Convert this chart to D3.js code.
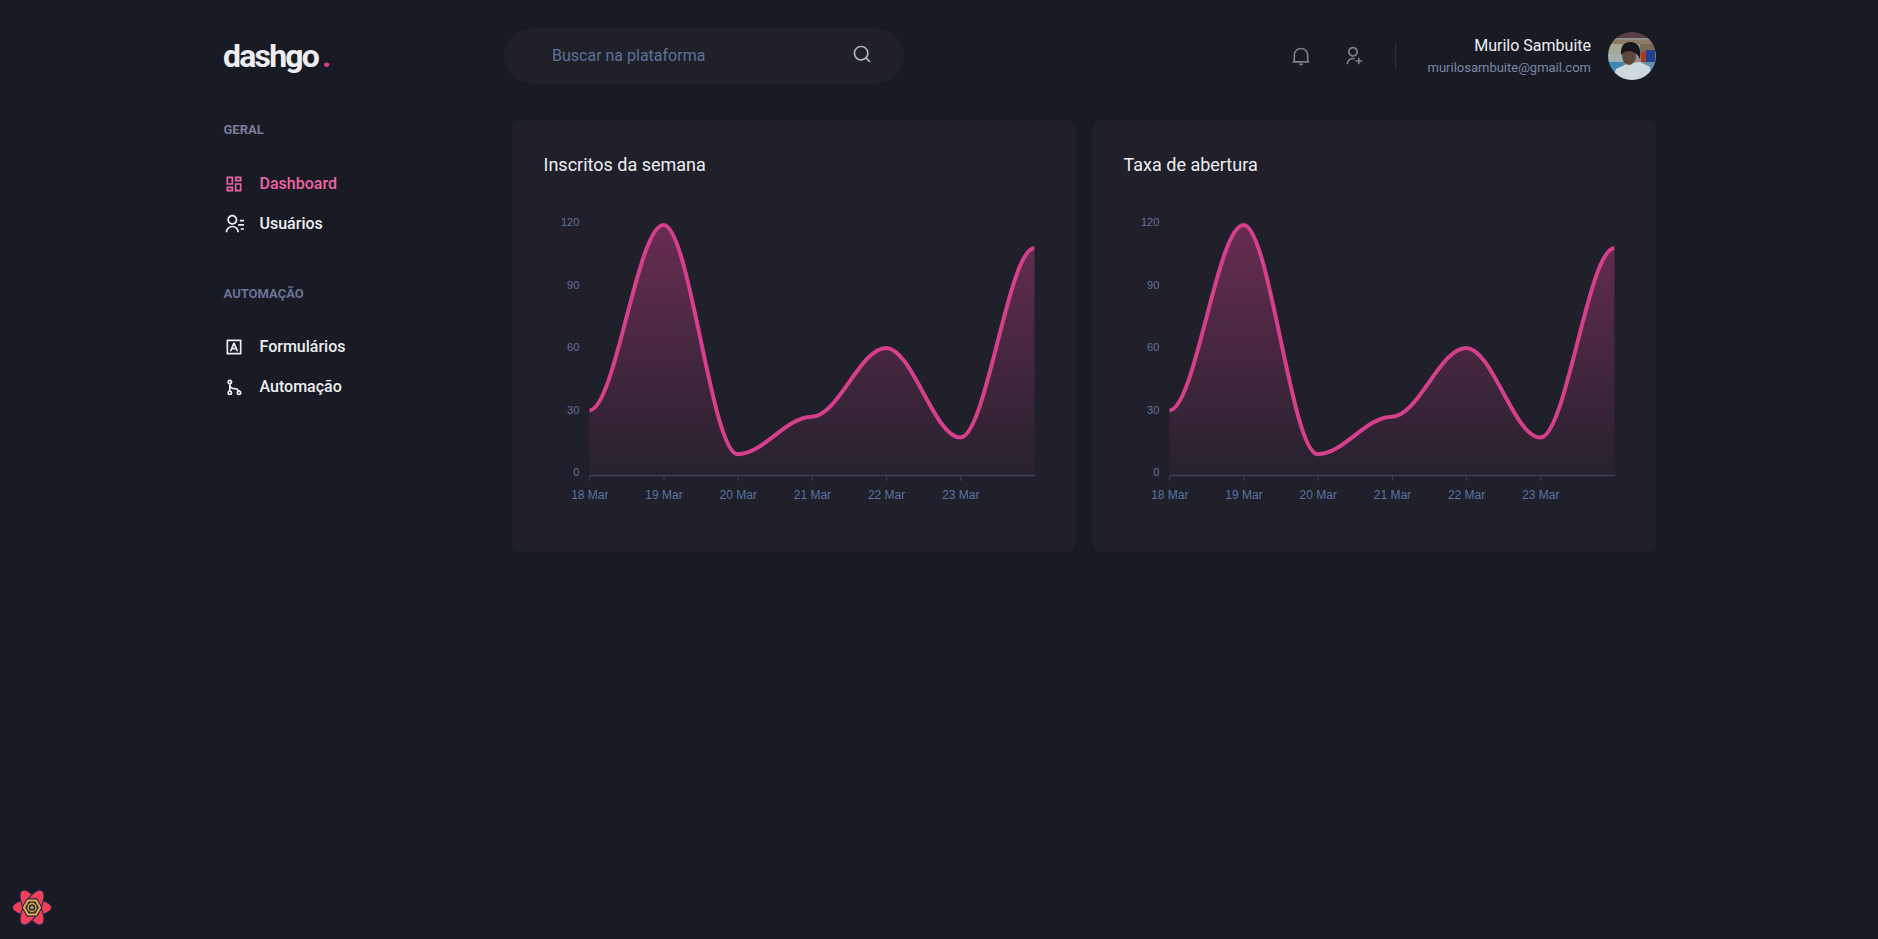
<!DOCTYPE html>
<html lang="pt-BR">
<head>
<meta charset="utf-8">
<title>dashgo</title>
<script src="https://cdn.jsdelivr.net/npm/d3@7"></script>
<style>
  html, body { margin: 0; padding: 0; background: #181B23; overflow: hidden; }
  svg { display: block; }
  text { font-family: Roboto, sans-serif; }
</style>
</head>
<body>
<div id="page"></div>
<script>
'use strict';

const categories = ["18 Mar", "19 Mar", "20 Mar", "21 Mar", "22 Mar", "23 Mar", "24 Mar"];
const tickLabels = ["18 Mar", "19 Mar", "20 Mar", "21 Mar", "22 Mar", "23 Mar"];
const yTicks = [0, 30, 60, 90, 120];
const subscribers = [31, 120, 10, 28, 61, 18, 109];
const openRate = [31, 120, 10, 28, 61, 18, 109];
const cardTitles = ["Inscritos da semana", "Taxa de abertura"];

const generalLinks = ["Dashboard", "Usuários"];
const automationLinks = ["Formulários", "Automação"];

const icons = {
    dashboard: "M13 21V11h8v10h-8zM3 13V3h8v10H3zm6-2V5H5v6h4zM3 21v-6h8v6H3zm2-2h4v-2H5v2zm10 0h4v-6h-4v6zM13 3h8v6h-8V3zm2 2v2h4V5h-4z",
    contacts: "M19 7h5v2h-5V7zm-2 5h7v2h-7v-2zm3 5h4v2h-4v-2zM2 22a8 8 0 1 1 16 0h-2a6 6 0 1 0-12 0H2zm8-9c-3.315 0-6-2.685-6-6s2.685-6 6-6 6 2.685 6 6-2.685 6-6 6zm0-2c2.21 0 4-1.79 4-4s-1.79-4-4-4-4 1.79-4 4 1.79 4 4 4z",
    input: "M5 5v14h14V5H5zM4 3h16a1 1 0 0 1 1 1v16a1 1 0 0 1-1 1H4a1 1 0 0 1-1-1V4a1 1 0 0 1 1-1zm5.869 12l-.82 2H6.833L11 7h2l4.167 10H14.95l-.82-2H9.87zm.82-2h2.622L12 9.8 10.689 13z",
    search: "M18.031 16.617l4.283 4.282-1.415 1.415-4.282-4.283A8.96 8.96 0 0 1 11 20c-4.968 0-9-4.032-9-9s4.032-9 9-9 9 4.032 9 9a8.96 8.96 0 0 1-1.969 5.617zm-2.006-.742A6.977 6.977 0 0 0 18 11c0-3.868-3.133-7-7-7-3.868 0-7 3.132-7 7 0 3.867 3.132 7 7 7a6.977 6.977 0 0 0 4.875-1.975l.15-.15z",
    bell: "M22 20H2v-2h1v-6.969C3 6.043 7.03 2 12 2s9 4.043 9 9.031V18h1v2zM5 18h14v-6.969C19 7.148 15.866 4 12 4s-7 3.148-7 7.031V18zm4.5 3h5a2.5 2.5 0 1 1-5 0z",
    userAdd: "M14 14.252v2.09A6 6 0 0 0 6 22l-2-.001a8 8 0 0 1 10-7.748zM12 13c-3.315 0-6-2.685-6-6s2.685-6 6-6 6 2.685 6 6-2.685 6-6 6zm0-2c2.21 0 4-1.79 4-4s-1.79-4-4-4-4 1.79-4 4 1.79 4 4 4zm6 6v-3h2v3h3v2h-3v3h-2v-3h-3v-2h3z"
};

const svg = d3.select("#page").append("svg")
    .attr("width", 1878)
    .attr("height", 939);

const defs = svg.append("defs");

// Curve with flat tangents at each point, same idea as the chart lib's "smooth"
class FlatSmooth {
    constructor(context) { this._context = context; }
    areaStart() { this._line = 0; }
    areaEnd() { this._line = NaN; }
    lineStart() { this._point = 0; }
    lineEnd() {
        if (this._line || (this._line !== 0 && this._point === 1)) this._context.closePath();
        this._line = 1 - this._line;
    }
    point(x, y) {
        x = +x; y = +y;
        if (this._point === 0) {
            this._point = 1;
            if (this._line) this._context.lineTo(x, y);
            else this._context.moveTo(x, y);
        } else {
            this._point = 2;
            const len = (x - this._x0) * 0.35;
            this._context.bezierCurveTo(this._x0 + len, this._y0, x - len, y, x, y);
        }
        this._x0 = x;
        this._y0 = y;
    }
}
const flatSmooth = (context) => new FlatSmooth(context);

const addText = (parent, x, y, label, size, weight, color, anchor) => {
    return parent.append("text")
        .attr("x", x)
        .attr("y", y)
        .attr("font-size", size)
        .attr("font-weight", weight)
        .attr("fill", color)
        .attr("text-anchor", anchor || "start")
        .text(label);
}

const addIcon = (parent, x, y, name, color) => {
    parent.append("path")
        .attr("transform", "translate(" + x + "," + y + ") scale(" + (20 / 24) + ")")
        .attr("d", icons[name])
        .attr("fill", color);
}

const drawHeader = () => {
    const g = svg.append("g");

    addText(g, 223, 67, "dashgo", 32, 700, "#EEEEF2").attr("letter-spacing", -1.8);
    addText(g, 322, 67, ".", 32, 700, "#D53F8C");

    g.append("rect")
        .attr("x", 504).attr("y", 28)
        .attr("width", 400).attr("height", 56)
        .attr("rx", 28)
        .attr("fill", "#1F2029");
    addText(g, 552, 61, "Buscar na plataforma", 16, 400, "#5f7196");
    addIcon(g, 852, 44, "search", "#B3B5C6");

    addIcon(g, 1291, 46, "bell", "#7d7e8a");
    addIcon(g, 1343, 46, "userAdd", "#7d7e8a");

    g.append("line")
        .attr("x1", 1395.5).attr("x2", 1395.5)
        .attr("y1", 42).attr("y2", 70)
        .attr("stroke", "#2c2e3b");

    addText(g, 1591, 51, "Murilo Sambuite", 16, 400, "#EEEEF2", "end");
    addText(g, 1591, 72, "murilosambuite@gmail.com", 13, 400, "#7b86a8", "end");

    drawAvatar(g, 1632, 56, 24);
}

// Rough stand-in for the profile photo
const drawAvatar = (parent, cx, cy, r) => {
    defs.append("clipPath").attr("id", "avatarClip")
        .append("circle").attr("cx", cx).attr("cy", cy).attr("r", r);
    defs.append("filter").attr("id", "soft")
        .append("feGaussianBlur").attr("stdDeviation", 0.5);

    const g = parent.append("g").attr("clip-path", "url(#avatarClip)");
    const inner = g.append("g").attr("filter", "url(#soft)");
    const rect = (x, y, w, h, fill) => inner.append("rect")
        .attr("x", cx + x).attr("y", cy + y).attr("width", w).attr("height", h).attr("fill", fill);

    rect(-r - 2, -r - 2, 2 * r + 4, 2 * r + 4, "#8f8d84");
    rect(-r - 2, -r - 2, 2 * r + 4, 8, "#5a3a4a");
    rect(-r, -16, 2 * r, 4, "#8d7a66");
    rect(-r, -12, 14, 10, "#a7a795");
    rect(-r, -2, 16, 10, "#9fb0ad");
    rect(-r, 6, 16, 14, "#3f86b0");
    rect(8, -12, 16, 8, "#7c6a58");
    rect(9, -4, 5, 10, "#a83a2a");
    rect(14, -6, 9, 12, "#23418f");
    rect(8, 6, 16, 10, "#5f93b0");

    inner.append("path")
        .attr("d", "M" + (cx - 21) + "," + (cy + 26) + "L" + (cx - 16) + "," + (cy + 13)
            + "L" + (cx - 3) + "," + (cy + 7) + "L" + (cx + 8) + "," + (cy + 6)
            + "L" + (cx + 18) + "," + (cy + 11) + "L" + (cx + 20) + "," + (cy + 26) + "Z")
        .attr("fill", "#cfd8de");
    inner.append("ellipse")
        .attr("cx", cx - 3).attr("cy", cy).attr("rx", 7).attr("ry", 9)
        .attr("fill", "#5f483d");
    inner.append("path")
        .attr("d", "M" + (cx - 11) + "," + (cy - 1) + "Q" + (cx - 12) + "," + (cy - 14)
            + " " + (cx - 1) + "," + (cy - 14) + "Q" + (cx + 10) + "," + (cy - 13)
            + " " + (cx + 8) + "," + (cy + 3) + "Q" + (cx + 5) + "," + (cy - 4)
            + " " + (cx - 2) + "," + (cy - 5) + "Q" + (cx - 8) + "," + (cy - 5)
            + " " + (cx - 11) + "," + (cy - 1) + "Z")
        .attr("fill", "#15131a");
}

const drawSidebar = () => {
    const g = svg.append("g");

    addText(g, 223.5, 134, "GERAL", 13, 700, "#797D9A");
    addIcon(g, 224, 174, "dashboard", "#ED64A6");
    addText(g, 259.5, 189, generalLinks[0], 16, 500, "#ED64A6");
    addIcon(g, 224, 214, "contacts", "#EEEEF2");
    addText(g, 259.5, 229, generalLinks[1], 16, 500, "#EEEEF2");

    addText(g, 223.5, 298, "AUTOMAÇÃO", 13, 700, "#6a7395");
    addIcon(g, 224, 337, "input", "#EEEEF2");
    addText(g, 259.5, 352, automationLinks[0], 16, 500, "#EEEEF2");

    // git merge icon
    const merge = g.append("g")
        .attr("transform", "translate(224,377) scale(" + (20 / 24) + ")")
        .attr("fill", "none")
        .attr("stroke", "#EEEEF2")
        .attr("stroke-width", 2);
    merge.append("circle").attr("cx", 7).attr("cy", 6).attr("r", 2);
    merge.append("circle").attr("cx", 7).attr("cy", 19).attr("r", 2);
    merge.append("circle").attr("cx", 18).attr("cy", 19).attr("r", 2);
    merge.append("path").attr("d", "M7 8V17M7 10Q8 14 13 14Q16 14 18 17");

    addText(g, 259.5, 392, automationLinks[1], 16, 500, "#EEEEF2");
}

const drawCard = (cardX, title, values, index) => {
    const g = svg.append("g");
    const plotLeft = cardX + 77.3;
    const plotRight = plotLeft + 445.2;
    const plotBottom = 475;
    const plotTop = 225;

    g.append("rect")
        .attr("x", cardX).attr("y", 120)
        .attr("width", 564).attr("height", 432)
        .attr("rx", 8)
        .attr("fill", "#1F2029");

    addText(g, cardX + 31.5, 171, title, 18, 400, "#EEEEF2");

    const x = d3.scalePoint().domain(categories).range([plotLeft, plotRight]);
    const y = d3.scaleLinear().domain([0, 120]).range([plotBottom, plotTop]);

    const gradId = "areaFill" + index;
    const grad = defs.append("linearGradient")
        .attr("id", gradId)
        .attr("gradientUnits", "userSpaceOnUse")
        .attr("x1", 0).attr("x2", 0)
        .attr("y1", plotTop).attr("y2", plotBottom);
    grad.append("stop").attr("offset", 0).attr("stop-color", "#D53F8C").attr("stop-opacity", 0.4);
    grad.append("stop").attr("offset", 1).attr("stop-color", "#D53F8C").attr("stop-opacity", 0.04);

    const area = d3.area()
        .x((d, i) => x(categories[i]))
        .y0(plotBottom)
        .y1((d) => y(d))
        .curve(flatSmooth);

    const line = d3.line()
        .x((d, i) => x(categories[i]))
        .y((d) => y(d))
        .curve(flatSmooth);

    g.append("path")
        .attr("d", area(values))
        .attr("fill", "url(#" + gradId + ")");

    // Axes under the stroke
    const xAxis = g.append("g")
        .attr("transform", "translate(0," + plotBottom + ")")
        .call(d3.axisBottom(x).tickValues(tickLabels).tickSize(6).tickSizeOuter(0).tickPadding(9));
    xAxis.select(".domain").attr("stroke", "#3f4154").attr("stroke-width", 1.5);
    xAxis.selectAll(".tick line").attr("stroke", "#3f4154");
    xAxis.selectAll(".tick text")
        .style("font-family", "'Liberation Sans', Arial, sans-serif")
        .attr("font-size", 12)
        .attr("fill", "#5a74a3");

    const yAxis = g.append("g")
        .attr("transform", "translate(" + (plotLeft - 10) + ",-3)")
        .call(d3.axisLeft(y).tickValues(yTicks).tickSize(0).tickPadding(0));
    yAxis.select(".domain").remove();
    yAxis.selectAll(".tick text")
        .style("font-family", "'Liberation Sans', Arial, sans-serif")
        .attr("font-size", 11)
        .attr("fill", "#66739a");

    // Stroke clipped at the plot's sides like the source
    defs.append("clipPath").attr("id", "plotClip" + index)
        .append("rect")
        .attr("x", plotLeft).attr("y", plotTop - 10)
        .attr("width", plotRight - plotLeft).attr("height", plotBottom - plotTop + 20);

    g.append("path")
        .attr("d", line(values))
        .attr("clip-path", "url(#plotClip" + index + ")")
        .attr("fill", "none")
        .attr("stroke", "#D53F8C")
        .attr("stroke-width", 4);
}

const drawDevtoolsLogo = () => {
    const g = svg.append("g").attr("transform", "translate(32,907.5)");
    [0, 60, 120].forEach((angle) => {
        g.append("ellipse")
            .attr("rx", 19.5).attr("ry", 8)
            .attr("transform", "rotate(" + angle + ")")
            .attr("fill", "#EF4056")
            .attr("stroke", "#1f2a55")
            .attr("stroke-width", 1);
    });
    const hex = d3.range(6).map((i) => {
        const a = (Math.PI / 3) * i;
        return [10 * Math.cos(a), 10 * Math.sin(a)];
    });
    g.append("path")
        .attr("d", d3.line()(hex) + "Z")
        .attr("fill", "#2a2f3a")
        .attr("stroke", "#1f2a55")
        .attr("stroke-width", 1);
    g.append("path")
        .attr("d", d3.line()(hex.map((p) => [p[0] * 0.8, p[1] * 0.8])) + "Z")
        .attr("fill", "#2a2f3a")
        .attr("stroke", "#E3A84A")
        .attr("stroke-width", 2);
    g.append("circle").attr("r", 4).attr("fill", "none").attr("stroke", "#E3A84A").attr("stroke-width", 1.3);
    g.append("circle").attr("r", 1.5).attr("fill", "#E3A84A");
}

drawHeader();
drawSidebar();
drawCard(512, cardTitles[0], subscribers, 0);
drawCard(1092, cardTitles[1], openRate, 1);
drawDevtoolsLogo();
</script>
</body>
</html>
